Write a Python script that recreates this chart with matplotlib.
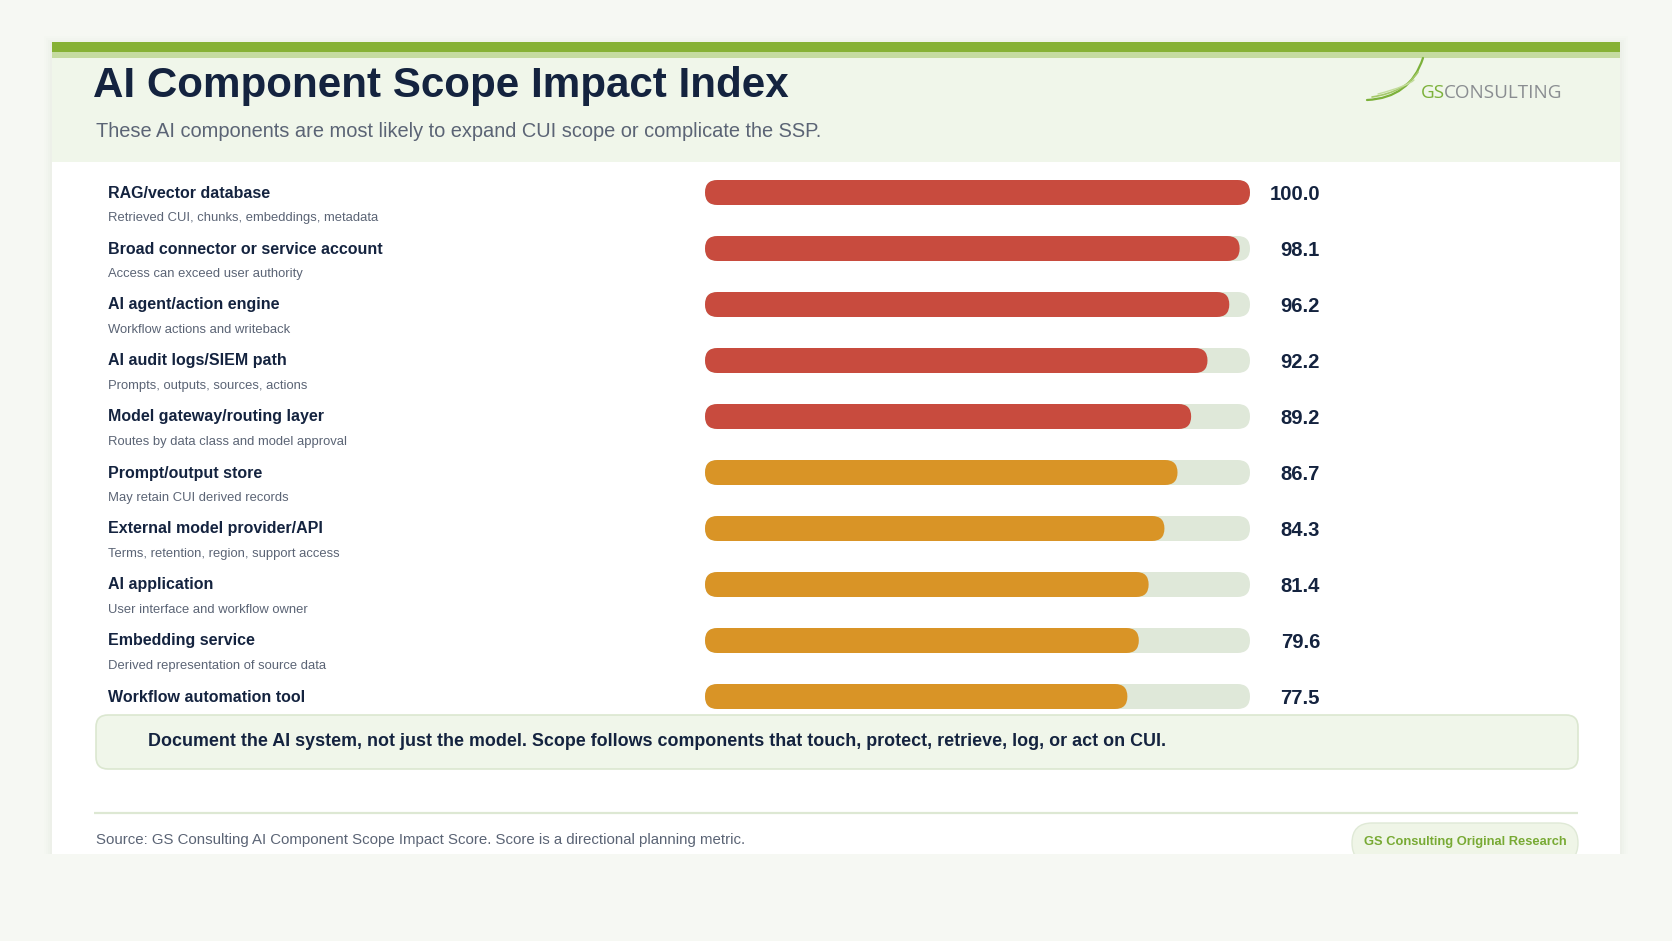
import numpy as np
import matplotlib
matplotlib.use("Agg")
import matplotlib.pyplot as plt
import matplotlib.transforms as mtransforms
from matplotlib.patches import FancyBboxPatch, Rectangle, PathPatch
from matplotlib.path import Path

plt.rcParams['font.family'] = ['Liberation Sans', 'DejaVu Sans']

# ---------------- data ----------------
components = [
    "RAG/vector database",
    "Broad connector or service account",
    "AI agent/action engine",
    "AI audit logs/SIEM path",
    "Model gateway/routing layer",
    "Prompt/output store",
    "External model provider/API",
    "AI application",
    "Embedding service",
    "Workflow automation tool",
]
details = [
    "Retrieved CUI, chunks, embeddings, metadata",
    "Access can exceed user authority",
    "Workflow actions and writeback",
    "Prompts, outputs, sources, actions",
    "Routes by data class and model approval",
    "May retain CUI derived records",
    "Terms, retention, region, support access",
    "User interface and workflow owner",
    "Derived representation of source data",
    "Triggers actions across connected systems",
]
scores = [100.0, 98.1, 96.2, 92.2, 89.2, 86.7, 84.3, 81.4, 79.6, 77.5]
tiers = ["high"] * 5 + ["elevated"] * 5

title = "AI Component Scope Impact Index"
subtitle = "These AI components are most likely to expand CUI scope or complicate the SSP."
callout = ("Document the AI system, not just the model. Scope follows components "
           "that touch, protect, retrieve, log, or act on CUI.")
source = "Source: GS Consulting AI Component Scope Impact Score. Score is a directional planning metric."
badge = "GS Consulting Original Research"

# ---------------- style ----------------
navy = "#14233f"
gray = "#5b6475"
tier_colors = {"high": "#c84b3e", "elevated": "#d99426"}
track_color = "#dfe8d9"
page_bg = "#f6f8f3"
header_bg = "#f0f6ea"

W, H = 1672, 941
fig = plt.figure(figsize=(W / 100, H / 100), dpi=100)
fig.patch.set_facecolor(page_bg)

# background canvas in pixel coordinates
bg = fig.add_axes([0, 0, 1, 1])
bg.set_xlim(0, W)
bg.set_ylim(H, 0)
bg.axis("off")

card_l, card_r, card_t, card_b = 52, 1620, 42, 854

# soft shadow
for k, a in enumerate([0.018, 0.014, 0.010, 0.007]):
    d = 2 + 2 * k
    bg.add_patch(Rectangle((card_l - d, card_t - d + 2), card_r - card_l + 2 * d,
                           card_b - card_t + 2 * d, facecolor="#6f7f5a", alpha=a,
                           edgecolor="none", zorder=0))
bg.add_patch(Rectangle((card_l, card_t), card_r - card_l, card_b - card_t,
                       facecolor="white", edgecolor="none", zorder=1))
bg.add_patch(Rectangle((card_l, 58), card_r - card_l, 104,
                       facecolor=header_bg, edgecolor="none", zorder=1.1))
bg.add_patch(Rectangle((card_l, card_t), card_r - card_l, 10,
                       facecolor="#86b135", edgecolor="none", zorder=1.2))
bg.add_patch(Rectangle((card_l, 52), card_r - card_l, 6,
                       facecolor="#c5dba0", edgecolor="none", zorder=1.2))

bg.text(93, 97, title, fontsize=30.3, fontweight="bold", color=navy,
        va="baseline", ha="left", zorder=3)
bg.text(96, 137, subtitle, fontsize=14.4, color=gray, va="baseline", ha="left", zorder=3)

# logo swoosh
for (p0, p1, p2), lw, col in [
    (((1367, 100), (1410, 98), (1423, 58)), 1.6, "#7cb13a"),
    (((1372, 97), (1405, 92), (1418, 72)), 1.2, "#a5c96a"),
    (((1378, 94), (1408, 86), (1414, 80)), 1.0, "#c2dc9b"),
]:
    path = Path([p0, p1, p2], [Path.MOVETO, Path.CURVE3, Path.CURVE3])
    bg.add_patch(PathPatch(path, facecolor="none", edgecolor=col, lw=lw, zorder=3,
                           capstyle="round"))
lg = bg.text(1421, 98, "GS", fontsize=13.6, color="#7cb13a", va="baseline",
             ha="left", family=["Open Sans", "DejaVu Sans"], zorder=3)
fig.canvas.draw()
ext = lg.get_window_extent()
bg.text(1421 + ext.width - 1, 98, "CONSULTING", fontsize=13.6, color="#8a8d91",
        va="baseline", ha="left", family=["Open Sans", "DejaVu Sans"], zorder=3)

# ---------------- rows ----------------
row0, step = 192.5, 56
n = len(scores)
for i in range(n):
    y = row0 + i * step
    bg.text(108, y + 5, components[i], fontsize=11.5, fontweight="bold", color=navy,
            va="baseline", ha="left", zorder=3)
    bg.text(108, y + 28.5, details[i], fontsize=9.4, color=gray,
            va="baseline", ha="left", zorder=3)

# bar axes
bar_l, bar_r = 705, 1250
ax_top = row0 - step / 2
ax_bot = row0 + (n - 0.5) * step
ax = fig.add_axes([bar_l / W, 1 - ax_bot / H, (bar_r - bar_l) / W, (ax_bot - ax_top) / H])
ax.set_xlim(0, 100)
ax.set_ylim(n - 0.5, -0.5)
ax.axis("off")
ax.patch.set_alpha(0)

bar_h_px = 25
bar_h = bar_h_px / step
ux = 100 / (bar_r - bar_l)          # data units per pixel in x
uy = 1 / step                        # data units per pixel in y
r_x = (bar_h_px / 2 - 0.05) * ux
aspect = uy / ux

for i, (s, t) in enumerate(zip(scores, tiers)):
    ax.add_patch(FancyBboxPatch((0, i - bar_h / 2), 100, bar_h,
                                boxstyle=f"round,pad=0,rounding_size={r_x}",
                                mutation_aspect=aspect, facecolor=track_color,
                                edgecolor="none", zorder=1))
    ax.add_patch(FancyBboxPatch((0, i - bar_h / 2), s, bar_h,
                                boxstyle=f"round,pad=0,rounding_size={r_x}",
                                mutation_aspect=aspect, facecolor=tier_colors[t],
                                edgecolor="none", zorder=2))

val_tr = mtransforms.blended_transform_factory(ax.transAxes, ax.transData)
val_x = (1320 - bar_l) / (bar_r - bar_l)
for i, s in enumerate(scores):
    ax.text(val_x, i + 7 / step, f"{s:.1f}", transform=val_tr, fontsize=14.6,
            fontweight="bold", color=navy, ha="right", va="baseline", clip_on=False)

# ---------------- callout ----------------
bg.add_patch(FancyBboxPatch((96, 715), 1482, 54,
                            boxstyle="round,pad=0,rounding_size=12",
                            facecolor=header_bg, edgecolor="#dbe7d0", lw=1.2, zorder=5))
bg.text(148, 746, callout, fontsize=12.9, fontweight="bold", color=navy,
        va="baseline", ha="left", zorder=6)

# ---------------- footer ----------------
bg.plot([94, 1578], [813, 813], color="#dde8d3", lw=1.6, zorder=3,
        solid_capstyle="butt")
bg.text(96, 844, source, fontsize=10.8, color=gray, va="baseline", ha="left", zorder=3)
bg.add_patch(FancyBboxPatch((1352, 823), 226, 40,
                            boxstyle="round,pad=0,rounding_size=20",
                            facecolor="#eff5e7", edgecolor="#dfe9d6", lw=1.0, zorder=3))
bg.text(1465, 845, badge, fontsize=9.3, fontweight="bold", color="#78aa34",
        va="baseline", ha="center", zorder=4)

# page background below the cropped card
bg.add_patch(Rectangle((0, card_b), W, H - card_b, facecolor=page_bg,
                       edgecolor="none", zorder=10))

fig.savefig("out.png", dpi=100, facecolor=fig.get_facecolor())
